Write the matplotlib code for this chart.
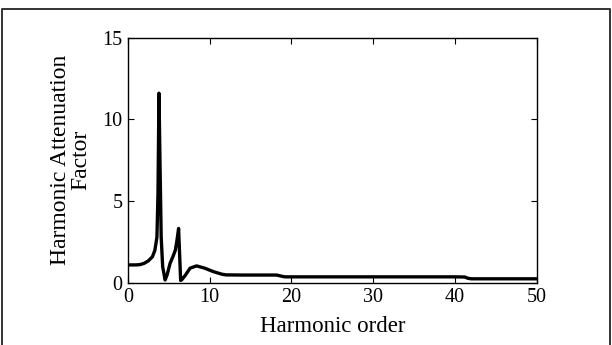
import matplotlib
matplotlib.use("Agg")
import matplotlib.pyplot as plt
from matplotlib.lines import Line2D

# harmonic attenuation factor
order = [0, 1.0, 1.5, 2.0, 2.5, 3.0, 3.3, 3.55, 3.68, 3.8, 3.92, 4.07, 4.25, 4.55,
         4.8, 5.16, 5.5, 5.8, 6.0, 6.2, 6.32, 6.45, 6.6, 7.0, 7.6, 8.4, 9.4, 10.45,
         11.5, 12.0, 14.0, 16.0, 18.2, 18.7, 19.2, 20.0, 25.0, 30.0, 35.0, 40.0, 41.2,
         41.6, 42.0, 45.0, 50.0]
factor = [1.1, 1.1, 1.12, 1.2, 1.35, 1.6, 2.0, 2.8, 5.5, 11.6, 7.5, 2.8, 1.0, 0.18,
          0.5, 1.2, 1.6, 2.0, 2.6, 3.33, 1.8, 0.15, 0.2, 0.45, 0.9, 1.04, 0.9, 0.69,
          0.53, 0.49, 0.48, 0.48, 0.48, 0.42, 0.37, 0.37, 0.37, 0.37, 0.37, 0.37, 0.36,
          0.28, 0.25, 0.25, 0.25]

plt.rcParams["font.family"] = ["Liberation Serif", "DejaVu Serif"]

fig = plt.figure(figsize=(6.12, 3.45), dpi=100)
# open frame around the figure (left, top, right edges)
fig.add_artist(Line2D([0.0025, 0.0025, 0.9967, 0.9967], [0.0, 0.974, 0.974, 0.0],
                      transform=fig.transFigure, color="#333333", lw=1.4))
ax = fig.add_axes([0.209, 0.180, 0.668, 0.711])
ax.plot(order, factor, color="black", lw=2.4, solid_joinstyle="round")
ax.set_xlim(0, 50)
ax.set_ylim(0, 15)
ax.set_xticks([0, 10, 20, 30, 40, 50])
ax.set_yticks([0, 5, 10, 15])
ax.tick_params(direction="in", top=True, right=True, length=4, width=0.8,
               labelsize=14.5, pad=4)
for s in ax.spines.values():
    s.set_linewidth(1.0)
ax.set_xlabel("Harmonic order", fontsize=16.5, labelpad=6)
ax.set_ylabel("Harmonic Attenuation\nFactor", fontsize=17, labelpad=8, linespacing=0.95)
fig.savefig("out.png", dpi=100)
